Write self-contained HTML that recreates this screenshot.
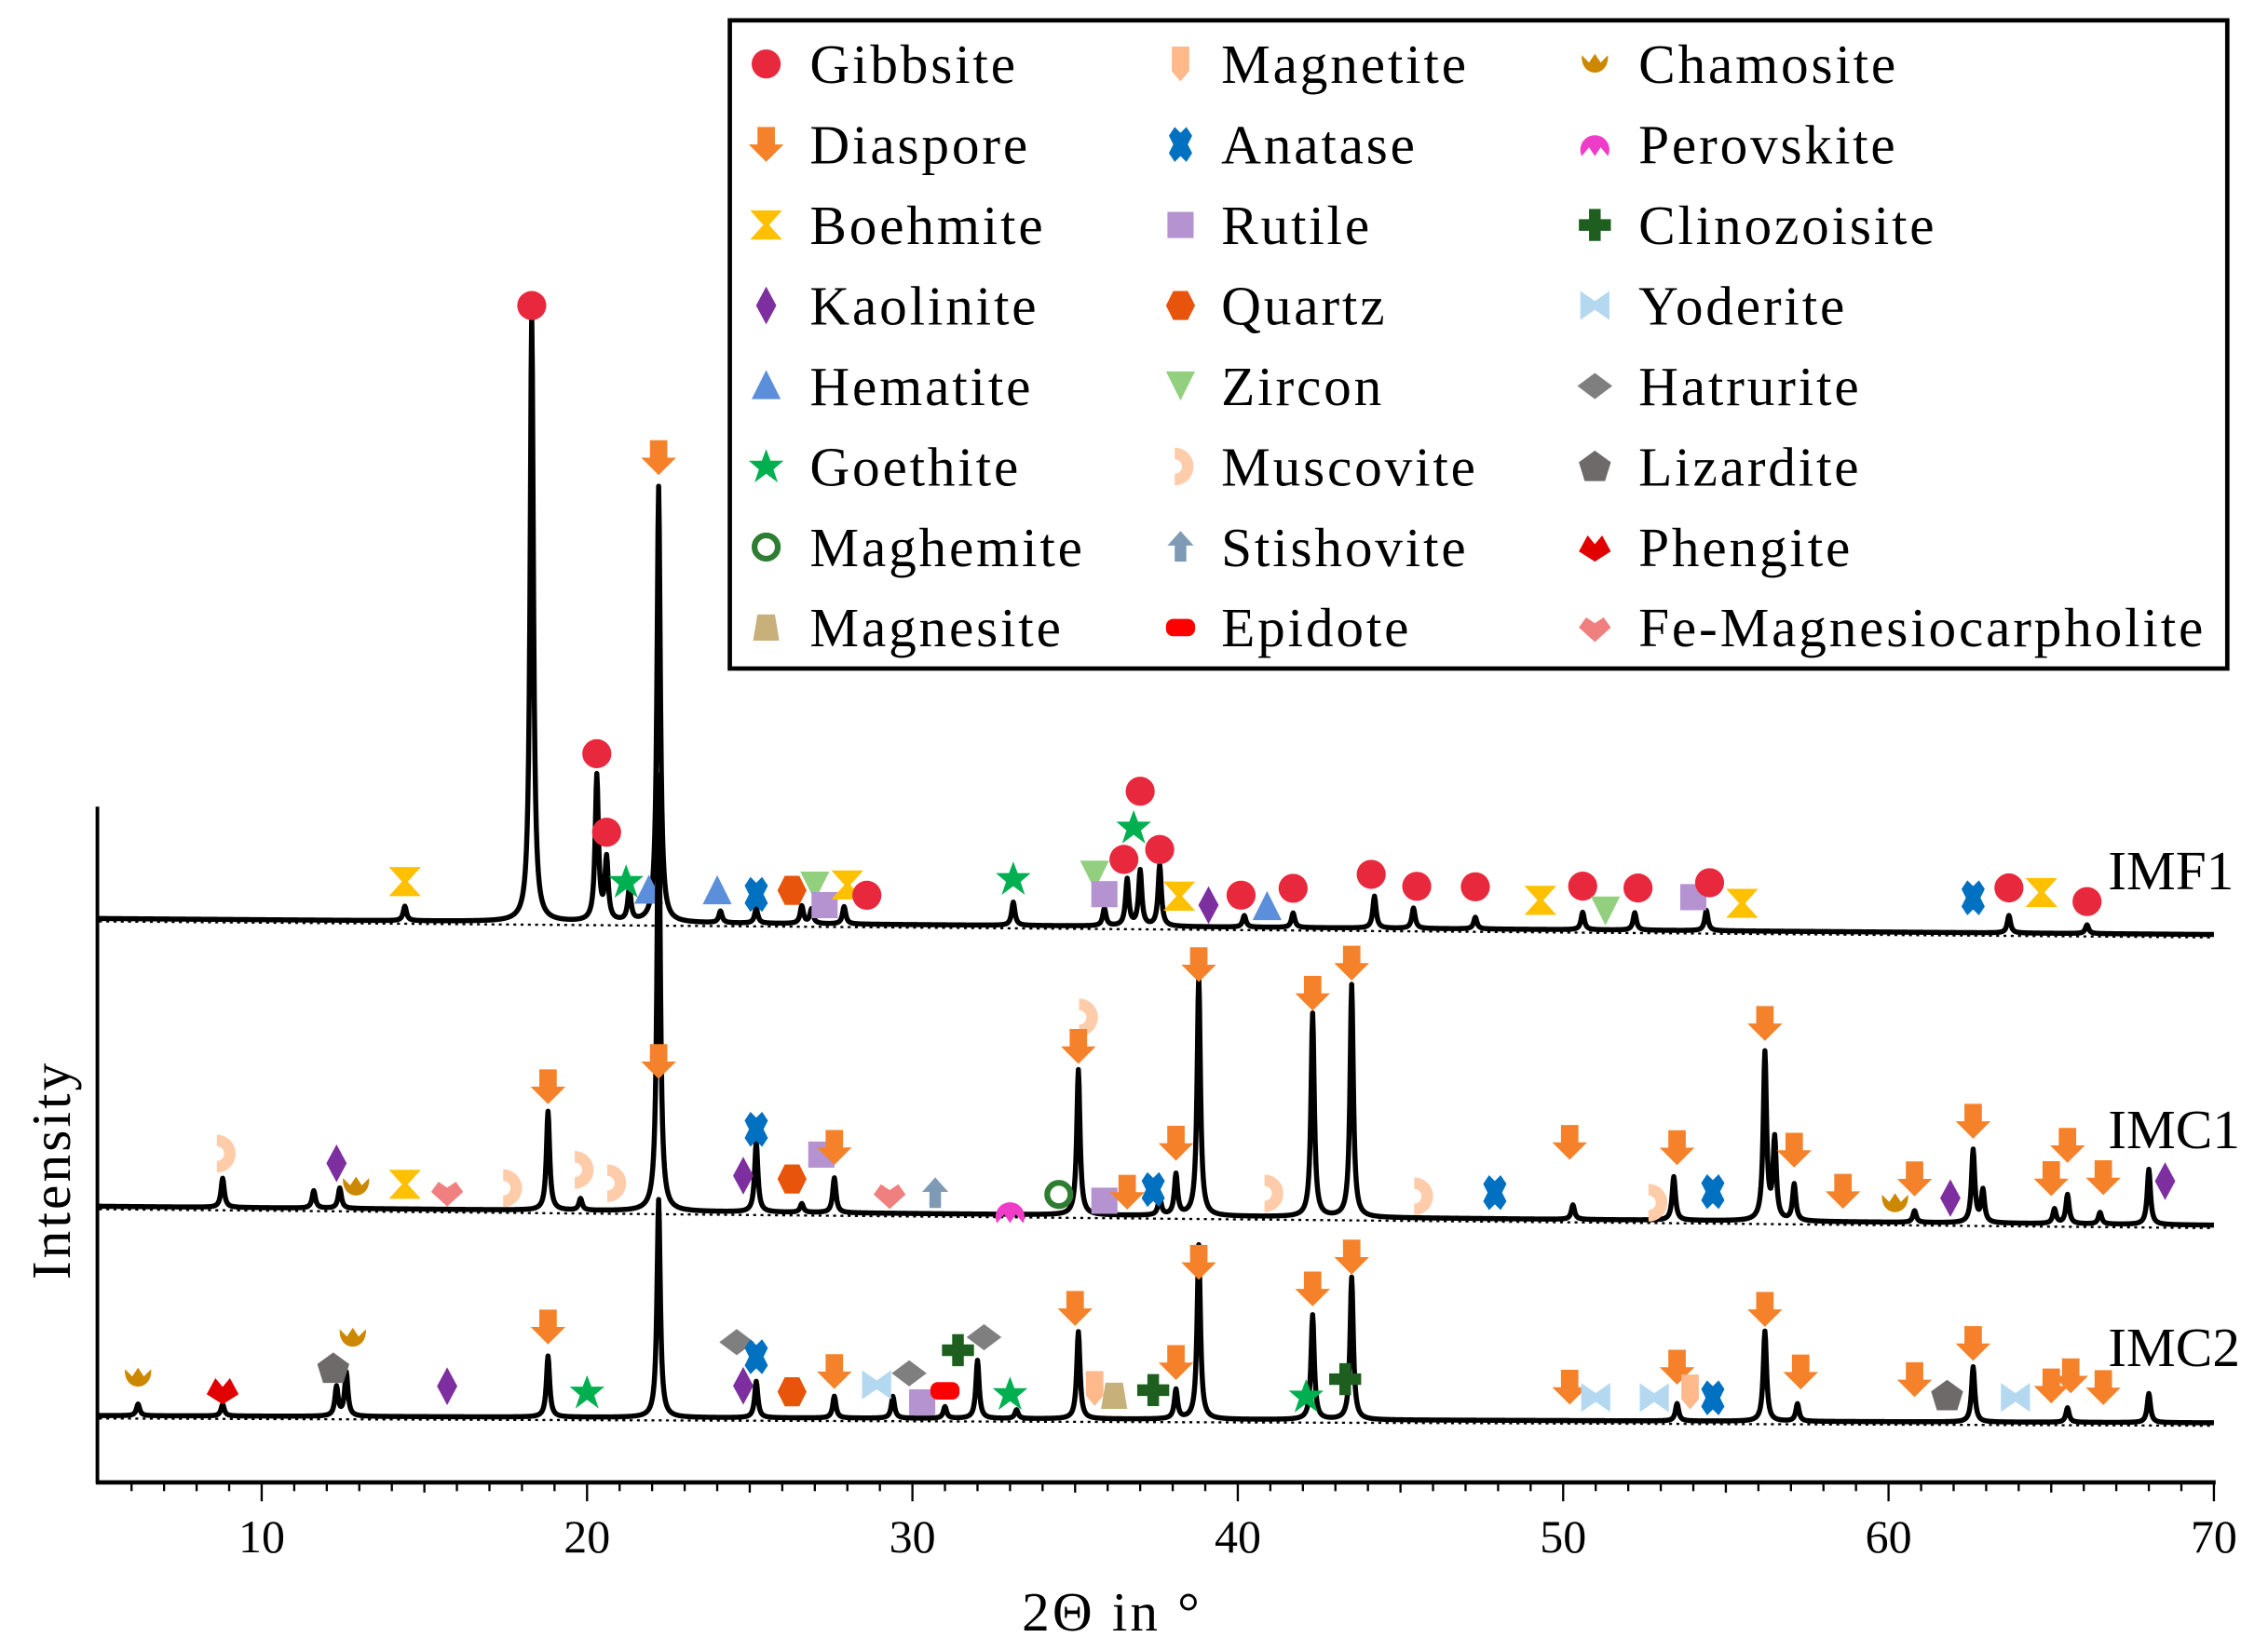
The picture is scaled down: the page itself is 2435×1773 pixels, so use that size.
<!DOCTYPE html>
<html><head><meta charset="utf-8"><style>
html,body{margin:0;padding:0;background:#fff}
svg{display:block}
text{font-family:"Liberation Serif",serif;fill:#000}
</style></head><body>
<svg id="chart" width="2435" height="1773" viewBox="0 0 1560 1136" preserveAspectRatio="none" xmlns="http://www.w3.org/2000/svg">
<g id="plot"></g>
<g id="axes"></g>
<g id="legend"></g>
</svg>
<script>
// ---- data ----
const xTicks=[10,20,30,40,50,60,70];
const sampleNames=["IMF1","IMC1","IMC2"];
const baseStart=[632,830,974];
const baseEnd=[643,843,979];
const peaksIMF1=[[14.4,10],[18.3,419],[20.3,100],[20.6,42],[21.3,22],[22.2,300],[24.1,8],[25.2,10],[26.6,12],[26.9,10],[27.9,12],[33.1,16],[35.9,12],[36.6,32],[37.0,38],[37.6,42],[40.2,8],[41.7,10],[44.2,22],[45.4,14],[47.3,8],[50.6,12],[52.2,12],[54.4,14],[63.7,12],[66.1,6]];
const peaksIMC1=[[8.8,20],[11.6,12],[12.4,14],[18.8,68],[19.8,8],[22.2,300],[25.2,48],[26.6,6],[27.6,24],[35.1,100],[37.6,12],[38.1,28],[38.8,165],[42.3,140],[43.5,160],[50.3,10],[53.4,30],[56.2,115],[56.5,55],[57.1,25],[60.8,8],[62.6,50],[62.9,22],[65.1,10],[65.5,20],[66.5,8],[68.0,38]];
const peaksIMC2=[[6.2,8],[8.8,8],[12.3,20],[12.6,30],[18.8,42],[22.2,150],[25.2,25],[27.6,15],[29.4,15],[31.0,8],[32.0,40],[33.2,6],[35.1,60],[38.1,20],[38.8,120],[42.3,72],[43.5,98],[53.5,12],[56.2,62],[57.2,12],[62.6,38],[65.5,10],[68.0,20]];
// markers: [2theta, level above baseline, phase]
const markersIMF1=[[14.4,27,"boehmite"],[18.3,424,"gibbsite"],[20.3,116,"gibbsite"],[20.6,62,"gibbsite"],[21.2,28,"goethite"],[21.9,22,"hematite"],[24.0,22,"hematite"],[25.2,20,"anatase"],[26.3,23,"quartz"],[27.0,26,"zircon"],[27.3,13,"rutile"],[28.0,27,"boehmite"],[28.6,20,"gibbsite"],[33.1,32,"goethite"],[35.6,35,"zircon"],[35.9,22,"rutile"],[36.5,46,"gibbsite"],[37.0,93,"gibbsite"],[36.8,68,"goethite"],[37.6,53,"gibbsite"],[38.2,21,"boehmite"],[39.1,15,"kaolinite"],[40.1,22,"gibbsite"],[40.9,14,"hematite"],[41.7,27,"gibbsite"],[44.1,37,"gibbsite"],[45.5,29,"gibbsite"],[47.3,29,"gibbsite"],[49.3,20,"boehmite"],[50.6,30,"gibbsite"],[51.3,13,"zircon"],[52.3,29,"gibbsite"],[54.0,23,"rutile"],[54.5,33,"gibbsite"],[55.5,19,"boehmite"],[62.6,24,"anatase"],[63.7,31,"gibbsite"],[64.7,28,"boehmite"],[66.1,22,"gibbsite"],[22.2,320,"diaspore"]];
const markersIMC1=[[8.8,37,"muscovite"],[12.3,31,"kaolinite"],[12.9,15,"chamosite"],[14.4,17,"boehmite"],[15.7,12,"femag"],[17.6,15,"muscovite"],[18.8,85,"diaspore"],[19.8,28,"muscovite"],[20.8,19,"muscovite"],[22.2,103,"diaspore"],[24.8,25,"kaolinite"],[25.2,57,"anatase"],[26.3,23,"quartz"],[27.2,40,"rutile"],[27.6,45,"diaspore"],[29.3,13,"femag"],[30.7,14,"stishovite"],[33.0,2,"perovskite"],[34.5,14,"maghemite"],[35.3,136,"muscovite"],[35.1,116,"diaspore"],[35.9,10,"rutile"],[36.6,16,"diaspore"],[37.4,18,"anatase"],[38.1,50,"diaspore"],[38.8,173,"diaspore"],[41.0,16,"muscovite"],[42.3,154,"diaspore"],[43.5,175,"diaspore"],[45.6,15,"muscovite"],[47.9,18,"anatase"],[50.2,53,"diaspore"],[52.8,12,"muscovite"],[53.5,50,"diaspore"],[54.6,20,"anatase"],[56.2,136,"diaspore"],[57.1,49,"diaspore"],[58.6,21,"diaspore"],[60.2,13,"chamosite"],[60.8,30,"diaspore"],[61.9,17,"kaolinite"],[62.6,70,"diaspore"],[65.0,31,"diaspore"],[65.5,54,"diaspore"],[66.6,32,"diaspore"],[68.5,30,"kaolinite"]];
const markersIMC2=[[6.2,26,"chamosite"],[8.8,18,"phengite"],[12.2,33,"lizardite"],[12.8,54,"chamosite"],[15.7,21,"kaolinite"],[18.8,62,"diaspore"],[20.0,17,"goethite"],[24.6,52,"hatrurite"],[24.8,22,"kaolinite"],[25.2,42,"anatase"],[26.3,18,"quartz"],[27.6,32,"diaspore"],[28.9,23,"yoderite"],[29.9,31,"hatrurite"],[30.3,11,"rutile"],[31.0,19,"epidote"],[31.4,47,"clinozoisite"],[32.2,56,"hatrurite"],[33.0,17,"goethite"],[35.0,76,"diaspore"],[35.6,21,"magnetite"],[36.2,16,"magnesite"],[37.4,20,"clinozoisite"],[38.1,39,"diaspore"],[38.8,108,"diaspore"],[42.1,16,"goethite"],[42.3,90,"diaspore"],[43.3,28,"clinozoisite"],[43.5,112,"diaspore"],[50.2,23,"diaspore"],[51.0,16,"yoderite"],[52.8,16,"yoderite"],[53.5,37,"diaspore"],[53.9,20,"magnetite"],[54.6,16,"anatase"],[56.2,77,"diaspore"],[57.3,34,"diaspore"],[60.8,29,"diaspore"],[61.8,18,"lizardite"],[62.6,54,"diaspore"],[63.9,17,"yoderite"],[65.0,25,"diaspore"],[65.6,32,"diaspore"],[66.6,24,"diaspore"]];
const legendNames=["Gibbsite","Diaspore","Boehmite","Kaolinite","Hematite","Goethite","Maghemite","Magnesite","Magnetite","Anatase","Rutile","Quartz","Zircon","Muscovite","Stishovite","Epidote","Chamosite","Perovskite","Clinozoisite","Yoderite","Hatrurite","Lizardite","Phengite","Fe-Magnesiocarpholite"];
const legendKeys=["gibbsite","diaspore","boehmite","kaolinite","hematite","goethite","maghemite","magnesite","magnetite","anatase","rutile","quartz","zircon","muscovite","stishovite","epidote","chamosite","perovskite","clinozoisite","yoderite","hatrurite","lizardite","phengite","femag"];

// ---- scales ----
const X0=180, PX=22.38;
function xs(v){return X0+(v-10)*PX;}
function baseY(i,v){return baseStart[i]+(baseEnd[i]-baseStart[i])*(v-5)/65;}
function ys(i,v,level){return baseY(i,v)-level;}
const NS="http://www.w3.org/2000/svg";
function mk(tag,attrs,parent){const e=document.createElementNS(NS,tag);for(const k in attrs)e.setAttribute(k,attrs[k]);parent.appendChild(e);return e;}

function shape(key,cx,cy,g){
  let e;
  const t=(d,f)=>mk("path",{d:d,fill:f,transform:`translate(${cx},${cy})`},g);
  switch(key){
    case "gibbsite": e=mk("circle",{cx:cx,cy:cy,r:10,fill:"#e8283c"},g);break;
    case "diaspore": e=t("M-6,-12H6V0H12L0,12L-12,0H-6Z","#f5822a");break;
    case "boehmite": e=t("M-11,-10H11L2,0L11,10H-11L-2,0Z","#ffc000");break;
    case "kaolinite": e=t("M0,-13L7,0L0,13L-7,0Z","#7d2fa0");break;
    case "hematite": e=t("M0,-11L10,9H-10Z","#5b8fdc");break;
    case "goethite": e=t("M0,-12L3,-4L12,-4L5,2L8,11L0,5L-8,11L-5,2L-12,-4L-3,-4Z","#00b050");break;
    case "maghemite": e=mk("circle",{cx:cx,cy:cy,r:8,fill:"none",stroke:"#2e7d32","stroke-width":4},g);break;
    case "magnesite": e=t("M-6,-9H6L9,9H-9Z","#c8b07a");break;
    case "magnetite": e=t("M-6,-12H6V5L0,12L-6,5Z","#ffb98a");break;
    case "anatase": e=t("M-4,-12L0,-8L4,-12L8,-6L5,0L8,6L4,12L0,8L-4,12L-8,6L-5,0L-8,-6Z","#0070c0");break;
    case "rutile": e=mk("rect",{x:cx-9,y:cy-9,width:18,height:18,fill:"#b593d0"},g);break;
    case "quartz": e=t("M-5,-10H5L10,0L5,10H-5L-10,0Z","#e8540b");break;
    case "zircon": e=t("M-10,-10H10L0,10Z","#92d080");break;
    case "muscovite": e=t("M-4,-13A13,13 0 0 1 -4,13V5A5,5 0 0 0 -4,-5Z","#ffccaa");break;
    case "stishovite": e=t("M0,-11L9,-1H4V10H-4V-1H-9Z","#7f9ab5");break;
    case "epidote": e=mk("rect",{x:cx-10,y:cy-6,width:20,height:12,rx:5,fill:"#ff0000"},g);break;
    case "chamosite": e=t("M-9,-6L-4,-1L0,-7L4,-1L9,-6C10,10 -10,10 -9,-6Z","#cc8800");break;
    case "perovskite": e=t("M-9,8A10,10 0 1 1 9,8L4,2L0,8L-4,2Z","#ee3cc8");break;
    case "clinozoisite": e=t("M-4,-11H4V-4H11V4H4V11H-4V4H-11V-4H-4Z","#1e5e1e");break;
    case "yoderite": e=t("M-10,-10L0,-3L10,-10V10L0,3L-10,10Z","#b4d8f0");break;
    case "hatrurite": e=t("M0,-9L12,0L0,9L-12,0Z","#7f7f7f");break;
    case "lizardite": e=t("M0,-11L11,-3L7,10H-7L-11,-3Z","#6f6a6a");break;
    case "phengite": e=t("M-11,3L-5,-8L0,-2L5,-8L11,3L0,10Z","#e00000");break;
    case "femag": e=t("M0,10L-11,0L-6,-7L0,-3L6,-7L11,0Z","#f08080");break;
  }
  return e;
}

const plot=document.getElementById("plot");
const axes=document.getElementById("axes");
const legend=document.getElementById("legend");
const allPeaks=[peaksIMF1,peaksIMC1,peaksIMC2];
const allMarkers=[markersIMF1,markersIMC1,markersIMC2];
const W=0.06;
for(let i=0;i<3;i++){
  const bl=mk("line",{x1:xs(5),y1:baseY(i,5)+2,x2:xs(70),y2:baseY(i,70)+2,stroke:"#000","stroke-width":1.5,"stroke-dasharray":"2,3"},plot);
  
  
  let d="";
  for(let v=5;v<=70.0001;v+=0.02){
    let lv=0;
    for(const p of allPeaks[i]){const u=(v-p[0])/W;lv+=p[1]/(1+u*u);}
    d+=(d?"L":"M")+xs(v).toFixed(2)+","+ys(i,v,lv).toFixed(2);
  }
  const path=mk("path",{d:d,fill:"none",stroke:"#000","stroke-width":3.5,"stroke-linejoin":"round"},plot);
  
  
  const lab=mk("text",{x:1450,y:[612,790,940][i],"font-size":38},plot);
  lab.textContent=sampleNames[i];
  
  
  for(const m of allMarkers[i]){
    const s=shape(m[2],xs(m[0]),ys(i,m[0],m[1]),plot);
    
    
  }
}
// axes
const yax=mk("line",{x1:67,y1:555,x2:67,y2:1021,stroke:"#000","stroke-width":2.5},axes);


const xax=mk("line",{x1:66,y1:1020,x2:1524,y2:1020,stroke:"#000","stroke-width":3},axes);


for(let v=6;v<=70;v++){
  const len=(v%10===0)?13:(v%5===0?7:6);
  const tk=mk("line",{x1:xs(v),y1:1020,x2:xs(v),y2:1020+len,stroke:"#000","stroke-width":1.5},axes);
  
  
}
for(const v of xTicks){
  const tl=mk("text",{x:xs(v),y:1068,"font-size":32,"text-anchor":"middle"},axes);
  tl.textContent=v;
  
  
}
const xt=mk("text",{x:765,y:1122,"font-size":38,"letter-spacing":2,"text-anchor":"middle"},axes);
xt.textContent="2Θ in °";


const yt=mk("text",{x:48,y:805,"font-size":38,"letter-spacing":2,"text-anchor":"middle",transform:"rotate(-90 48 805)"},axes);
yt.textContent="Intensity";


// legend
const lb=mk("rect",{x:502,y:14,width:1030,height:446,fill:"#fff",stroke:"#000","stroke-width":3},legend);


const colM=[527,812,1097], colT=[557,840,1127];
for(let k=0;k<legendNames.length;k++){
  const c=Math.floor(k/8), r=k%8, y=44+r*55.4;
  const s=shape(legendKeys[k],colM[c],y,legend);
  
  
  const t=mk("text",{x:colT[c],y:y+13,"font-size":38,"letter-spacing":1.8},legend);
  t.textContent=legendNames[k];
  
  
}
</script>
</body></html>
